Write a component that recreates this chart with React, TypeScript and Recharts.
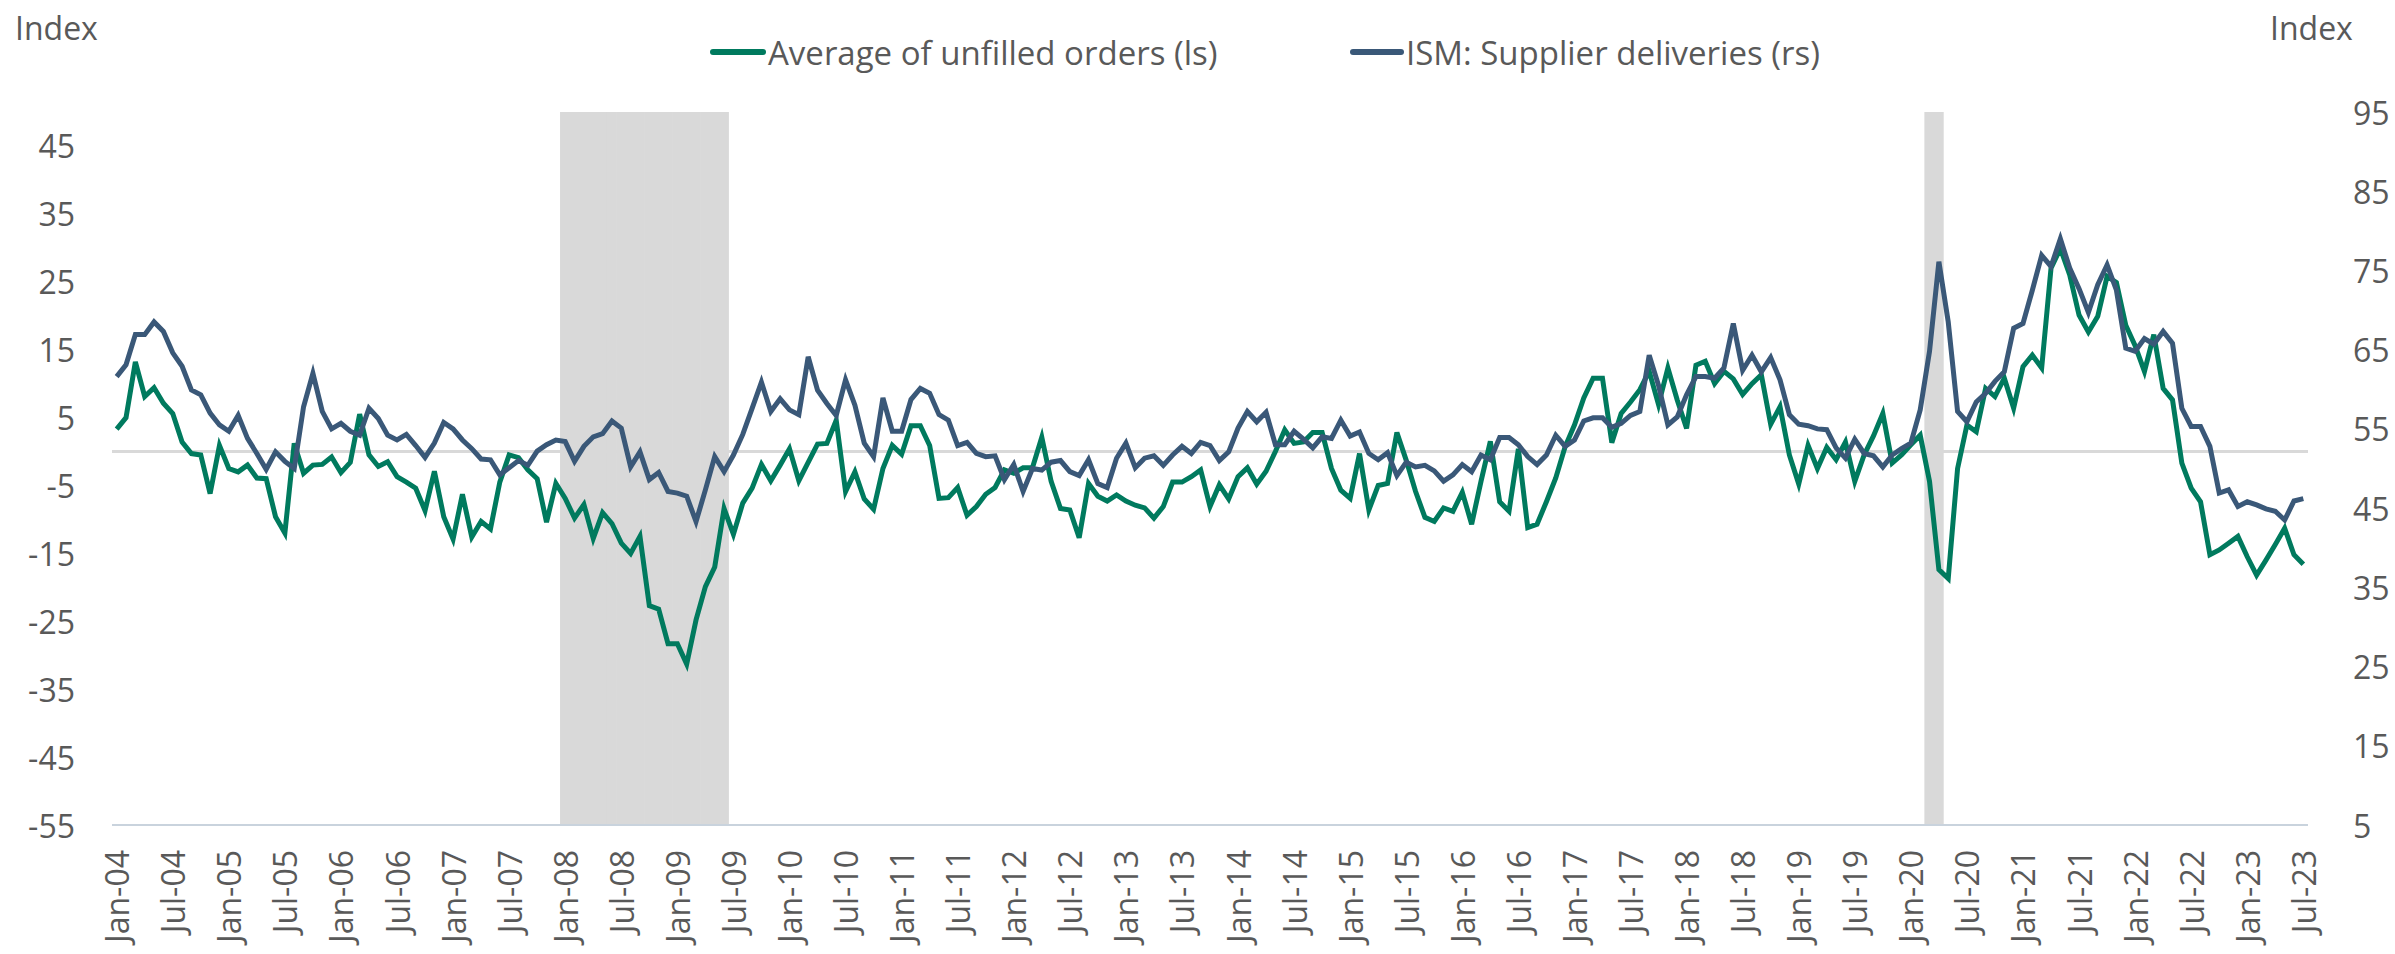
import React from 'react';
import {
  ComposedChart,
  Line,
  Bar,
  XAxis,
  YAxis,
  ReferenceLine,
  Legend,
} from 'recharts';

const FONT = "'Open Sans', sans-serif";
const TEXT = '#595959';
const GREEN = '#007A5E';
const BLUE = '#3A5878';
const SHADE = '#D9D9D9';

const MONTH_NAMES = ['Jan', 'Feb', 'Mar', 'Apr', 'May', 'Jun', 'Jul', 'Aug', 'Sep', 'Oct', 'Nov', 'Dec'];

// Jan-04 .. Jul-23
const months: string[] = [];
for (let y = 2004; y <= 2023; y++) {
  for (let m = 0; m < 12; m++) {
    if (y === 2023 && m > 6) break;
    months.push(`${MONTH_NAMES[m]}-${String(y).slice(2)}`);
  }
}

// Average of unfilled orders (left axis)
const unfilledOrders = [
  3.3, 5.0, 13.2, 8.1, 9.4, 7.1, 5.6, 1.4, -0.3, -0.5, -6.2, 0.9,
  -2.5, -3.0, -2.0, -3.9, -4.0, -9.6, -12.0, 1.2, -3.2, -2.0, -1.9, -0.8,
  -3.1, -1.6, 5.5, -0.5, -2.2, -1.5, -3.7, -4.5, -5.4, -8.7, -2.9, -9.6,
  -12.9, -6.3, -12.6, -10.3, -11.4, -4.5, -0.5, -0.9, -2.7, -4.0, -10.4, -4.7,
  -6.9, -9.8, -7.8, -12.8, -9.0, -10.6, -13.5, -15.0, -12.5, -22.7, -23.2, -28.3,
  -28.3, -31.3, -24.8, -19.9, -17.0, -8.4, -12.2, -7.6, -5.4, -1.9, -4.3, -2.0,
  0.4, -4.3, -1.6, 1.1, 1.2, 4.6, -5.9, -3.0, -7.0, -8.5, -2.5, 0.9,
  -0.4, 3.8, 3.8, 0.9, -6.9, -6.8, -5.3, -9.4, -8.1, -6.3, -5.3, -2.7,
  -3.2, -2.4, -2.4, 2.1, -4.4, -8.4, -8.6, -12.7, -4.7, -6.6, -7.3, -6.4,
  -7.3, -7.9, -8.3, -9.8, -8.1, -4.5, -4.5, -3.7, -2.7, -8.1, -4.9, -7.0,
  -3.7, -2.4, -4.8, -2.9, 0.0, 3.2, 1.2, 1.4, 2.8, 2.8, -2.5, -5.7,
  -6.9, -0.3, -8.6, -5.0, -4.7, 2.8, -1.3, -5.9, -9.7, -10.3, -8.3, -8.8,
  -6.0, -10.7, -4.4, 1.5, -7.4, -8.8, 0.4, -11.2, -10.7, -7.4, -3.9, 0.7,
  3.9, 7.9, 10.8, 10.8, 1.3, 5.6, 7.3, 9.1, 11.8, 6.9, 12.3, 7.6,
  3.4, 12.7, 13.3, 10.0, 11.8, 10.7, 8.4, 10.0, 11.3, 4.0, 6.6, -0.5,
  -4.8, 0.9, -2.5, 0.6, -1.2, 1.4, -4.4, -0.5, 2.3, 5.6, -1.7, -0.5,
  1.0, 2.4, -4.4, -17.4, -18.7, -2.5, 3.9, 2.9, 9.3, 8.1, 10.8, 6.4,
  12.5, 14.2, 12.3, 27.0, 29.9, 26.0, 20.1, 17.6, 19.9, 25.8, 24.9, 18.6,
  15.6, 11.8, 17.2, 9.3, 7.6, -1.7, -5.4, -7.4, -15.2, -14.5, -13.5, -12.5,
  -15.5, -18.2, -16.0, -13.7, -11.3, -15.2, -16.6,
];

// ISM: Supplier deliveries (right axis)
const supplierDeliveries = [
  61.6, 63.1, 66.9, 66.9, 68.5, 67.3, 64.6, 62.9, 59.9, 59.3, 57.0, 55.5,
  54.7, 56.7, 53.8, 51.9, 49.9, 52.1, 50.9, 50.0, 57.8, 62.0, 57.2, 55.0,
  55.7, 54.7, 54.2, 57.6, 56.3, 54.2, 53.6, 54.3, 52.9, 51.4, 53.2, 55.8,
  55.0, 53.6, 52.5, 51.2, 51.1, 49.2, 50.1, 51.0, 50.4, 52.2, 53.0, 53.6,
  53.4, 50.9, 52.8, 54.0, 54.4, 56.0, 55.1, 50.2, 52.1, 48.6, 49.5, 47.1,
  46.9, 46.5, 43.3, 47.3, 51.5, 49.6, 51.7, 54.3, 57.6, 60.9, 57.2, 58.8,
  57.4, 56.8, 64.1, 59.9, 58.2, 56.7, 61.2, 58.0, 53.2, 51.5, 58.9, 54.7,
  54.7, 58.7, 60.1, 59.5, 56.8, 56.1, 52.9, 53.3, 51.9, 51.5, 51.6, 48.6,
  50.5, 47.1, 50.0, 49.8, 50.8, 51.0, 49.6, 49.1, 51.1, 48.1, 47.6, 51.3,
  53.2, 50.1, 51.3, 51.6, 50.4, 51.7, 52.8, 51.9, 53.3, 52.9, 51.0, 52.1,
  55.1, 57.2, 55.9, 57.1, 53.0, 53.0, 54.7, 53.7, 52.6, 54.0, 53.8, 56.1,
  54.1, 54.6, 51.9, 51.1, 52.0, 49.1, 50.8, 50.2, 50.4, 49.7, 48.4, 49.2,
  50.5, 49.6, 51.7, 51.1, 53.9, 53.9, 53.0, 51.5, 50.5, 51.7, 54.2, 52.8,
  53.6, 56.0, 56.4, 56.4, 55.2, 55.7, 56.7, 57.2, 64.3, 60.5, 55.5, 56.5,
  59.3, 61.6, 61.6, 61.4, 62.7, 68.3, 62.4, 64.3, 62.2, 64.0, 61.2, 56.8,
  55.6, 55.4, 55.0, 54.9, 52.6, 51.3, 53.7, 51.9, 51.6, 50.2, 51.7, 52.5,
  53.2, 57.4, 64.8, 76.1, 68.5, 57.2, 55.9, 58.4, 59.5, 61.0, 62.2, 67.7,
  68.3, 72.5, 76.9, 75.5, 79.0, 75.3, 72.7, 69.7, 73.2, 75.7, 72.5, 65.2,
  64.8, 66.4, 65.7, 67.3, 65.8, 57.6, 55.3, 55.3, 52.8, 46.9, 47.3, 45.2,
  45.8, 45.4, 44.9, 44.6, 43.5, 45.9, 46.2,
];

// shaded periods, first and last month inclusive
const recessionSpans: [string, string][] = [
  ['Jan-08', 'Jun-09'],
  ['Mar-20', 'Apr-20'],
];

const leftTicks = [-55, -45, -35, -25, -15, -5, 5, 15, 25, 35, 45];
const rightTicks = [5, 15, 25, 35, 45, 55, 65, 75, 85, 95];
const xTickLabels = months.filter((_, i) => i % 6 === 0);

const inRecession = (i: number) =>
  recessionSpans.some(([a, b]) => i >= months.indexOf(a) && i <= months.indexOf(b));

const data = months.map((month, i) => ({
  month,
  unfilled: unfilledOrders[i],
  deliveries: supplierDeliveries[i],
  recession: inRecession(i) ? 1 : null,
}));

const XTick = (props: any) => {
  const { x, payload } = props;
  return (
    <text
      transform={`translate(${x},850) rotate(-90)`}
      textAnchor="end"
      dominantBaseline="central"
      fill={TEXT}
      fontSize={32}
      fontFamily={FONT}
    >
      {payload.value}
    </text>
  );
};

const LeftTick = (props: any) => (
  <text x={75} y={props.y} textAnchor="end" dominantBaseline="central" fill={TEXT} fontSize={32} fontFamily={FONT}>
    {props.payload.value}
  </text>
);

const RightTick = (props: any) => (
  <text x={2353} y={props.y} textAnchor="start" dominantBaseline="central" fill={TEXT} fontSize={32} fontFamily={FONT}>
    {props.payload.value}
  </text>
);

const AxisTitle = ({ tx }: { tx: number }) => (
  <text x={tx} y={27} textAnchor="start" dominantBaseline="central" fill={TEXT} fontSize={32} fontFamily={FONT}>
    Index
  </text>
);

// grey band, with the thin blue base line Excel leaves under the columns
const ShadeBar = (props: any) => {
  const { x, y, width, height } = props;
  if (!height) return null;
  return (
    <g>
      <rect x={x - 0.5} y={y} width={width + 1} height={height} fill={SHADE} />
      <line x1={x - 0.5} x2={x + width + 0.5} y1={y + height} y2={y + height} stroke="#6A9FD6" strokeWidth={1.2} />
    </g>
  );
};

const LegendContent = () => (
  <svg width={2395} height={80} style={{ display: 'block' }}>
    <line x1={713} y1={52} x2={763} y2={52} stroke={GREEN} strokeWidth={6} strokeLinecap="round" />
    <text x={768} y={52} dominantBaseline="central" fill={TEXT} fontSize={33} fontFamily={FONT}>
      Average of unfilled orders (ls)
    </text>
    <line x1={1353} y1={52} x2={1401} y2={52} stroke={BLUE} strokeWidth={6} strokeLinecap="round" />
    <text x={1406} y={52} dominantBaseline="central" fill={TEXT} fontSize={33} fontFamily={FONT}>
      ISM: Supplier deliveries (rs)
    </text>
  </svg>
);

export default function App() {
  return (
    <div style={{ position: 'absolute', left: 0, top: 0, width: 2395, height: 954, background: '#fff', fontFamily: FONT }}>
      <ComposedChart
        width={2395}
        height={954}
        data={data}
        margin={{ top: 112, right: 0, bottom: 0, left: 0 }}
        barCategoryGap={0}
        barGap={0}
      >
        <XAxis
          dataKey="month"
          ticks={xTickLabels}
          interval={0}
          tickLine={false}
          axisLine={{ stroke: '#C9D3DD', strokeWidth: 2 }}
          height={129}
          tick={<XTick />}
        />
        <YAxis
          yAxisId="left"
          domain={[-55, 50]}
          ticks={leftTicks}
          width={112}
          axisLine={false}
          tickLine={false}
          tick={<LeftTick />}
          label={<AxisTitle tx={15} />}
        />
        <YAxis
          yAxisId="right"
          orientation="right"
          domain={[5, 95]}
          ticks={rightTicks}
          width={87}
          axisLine={false}
          tickLine={false}
          tick={<RightTick />}
          label={<AxisTitle tx={2270} />}
        />
        <YAxis yAxisId="rec" hide domain={[0, 1]} />
        <Legend
          verticalAlign="middle"
          align="center"
          layout="horizontal"
          wrapperStyle={{ top: 0, left: 0, width: 2395, height: 80 }}
          content={<LegendContent />}
        />
        <Bar
          dataKey="recession"
          yAxisId="rec"
          fill={SHADE}
          shape={<ShadeBar />}
          isAnimationActive={false}
          legendType="none"
        />
        <ReferenceLine y={0} yAxisId="left" stroke={SHADE} strokeWidth={3} />
        <Line
          type="linear"
          dataKey="unfilled"
          yAxisId="left"
          stroke={GREEN}
          strokeWidth={5}
          dot={false}
          isAnimationActive={false}
        />
        <Line
          type="linear"
          dataKey="deliveries"
          yAxisId="right"
          stroke={BLUE}
          strokeWidth={5}
          dot={false}
          isAnimationActive={false}
        />
      </ComposedChart>
    </div>
  );
}
